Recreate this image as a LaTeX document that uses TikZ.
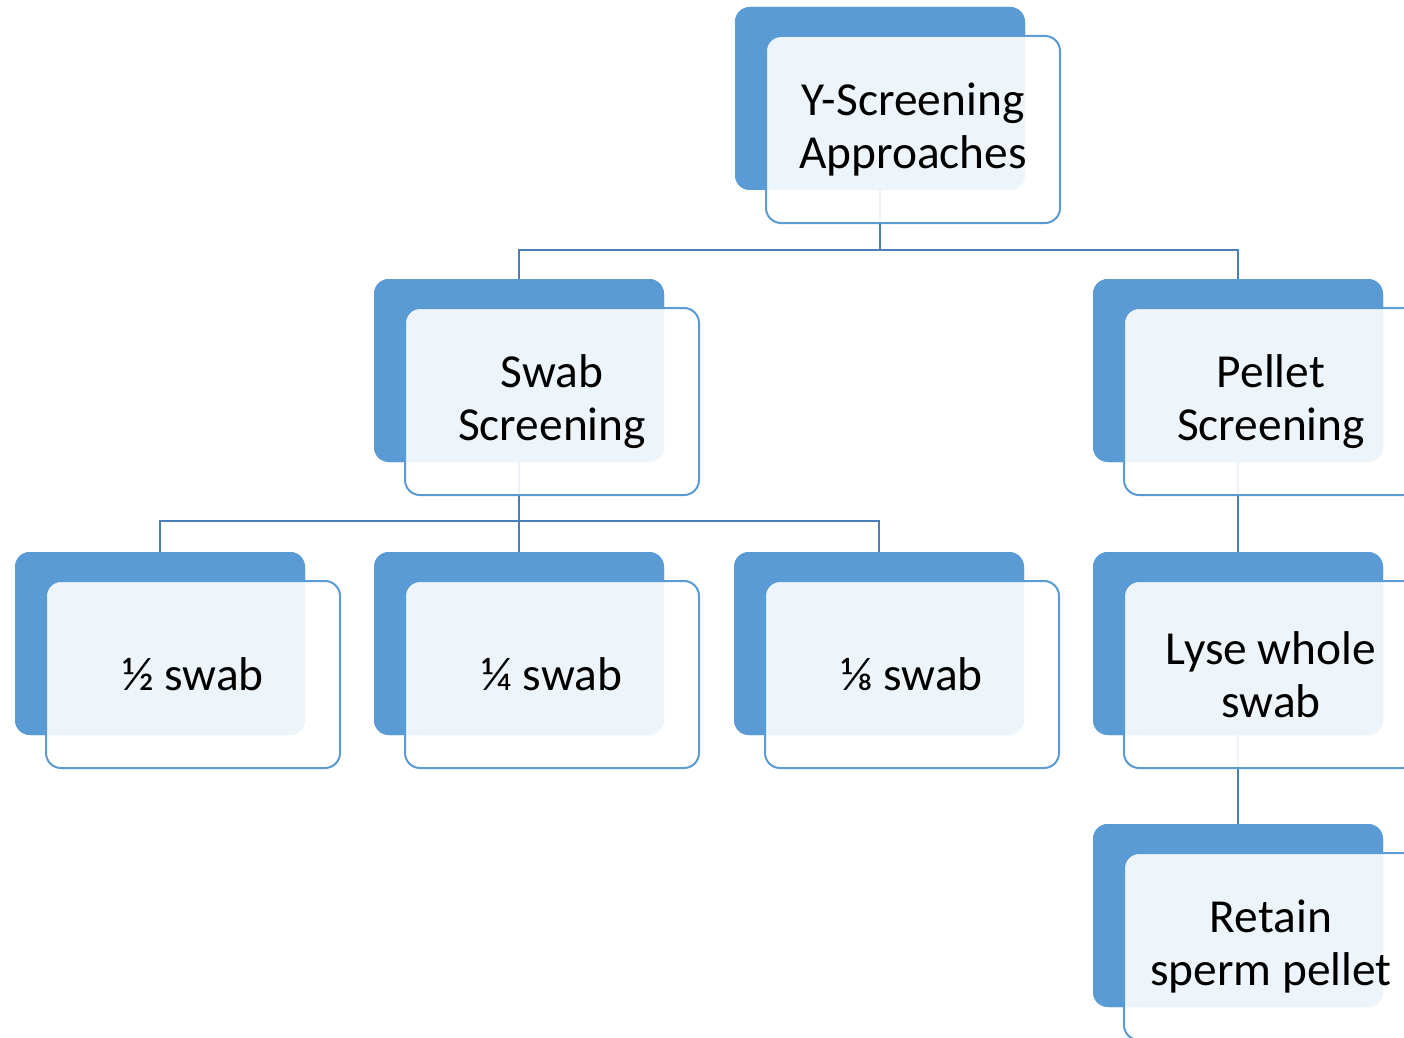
\documentclass[tikz,border=0pt]{standalone}
\usepackage{fontspec}
\setmainfont{Carlito}
\definecolor{boxblue}{HTML}{5B9BD5}
\definecolor{linkblue}{HTML}{4A7EBB}
\begin{document}
\begin{tikzpicture}[x=0.5pt,y=-0.5pt,
  backbox/.style={rectangle,rounded corners=7.5pt,fill=boxblue,draw=none,
    minimum width=145pt,minimum height=91.5pt,inner sep=0pt,outer sep=0pt},
  frontbox/.style={rectangle,rounded corners=7.5pt,fill=white,fill opacity=0.9,text opacity=1,
    draw=boxblue,line width=1pt,minimum width=147pt,minimum height=93.5pt,inner sep=0pt,outer sep=0pt,
    align=center,font=\fontsize{23.7pt}{26.5pt}\selectfont,text=black},
  link/.style={draw=linkblue,line width=1.25pt}]
\useasboundingbox (0,0) rectangle (1404,1038);
\clip (0,0) rectangle (1404,1038);
% back boxes
\node[backbox] (top-b) at (880,98.5) {};
\node[backbox] (swab-b) at (519,370.5) {};
\node[backbox] (pellet-b) at (1238,370.5) {};
\node[backbox] (half-b) at (160,643.5) {};
\node[backbox] (quarter-b) at (519,643.5) {};
\node[backbox] (eighth-b) at (879,643.5) {};
\node[backbox] (lyse-b) at (1238,643.5) {};
\node[backbox] (retain-b) at (1238,915.5) {};
% connectors
\draw[link] (top-b.south) -- ++(0,60) coordinate (j1);
\draw[link] (swab-b.north) |- (j1) -| (pellet-b.north);
\draw[link] (swab-b.south) -- ++(0,59) coordinate (j2);
\draw[link] (half-b.north) |- (j2) -| (eighth-b.north);
\draw[link] (j2) -- (quarter-b.north);
\draw[link] (pellet-b.south) -- (lyse-b.north);
\draw[link] (lyse-b.south) -- (retain-b.north);
% redraw back boxes over connector ends
\foreach \n in {top-b,swab-b,pellet-b,half-b,quarter-b,eighth-b,lyse-b,retain-b}{
  \fill[boxblue,rounded corners=7.5pt] (\n.south west) rectangle (\n.north east);}
% front boxes
\node[frontbox] (top) at (913,129.5) {Y-Screening\\Approaches};
\node[frontbox] (swab) at (552,401.5) {Swab\\Screening};
\node[frontbox] (pellet) at (1271,401.5) {Pellet\\Screening};
\node[frontbox] (half) at (193,674.5) {½ swab};
\node[frontbox] (quarter) at (552,674.5) {¼ swab};
\node[frontbox] (eighth) at (912,674.5) {⅛ swab};
\node[frontbox] (lyse) at (1271,674.5) {Lyse whole\\swab};
\node[frontbox] (retain) at (1271,946.5) {Retain\\sperm pellet};
\end{tikzpicture}
\end{document}
